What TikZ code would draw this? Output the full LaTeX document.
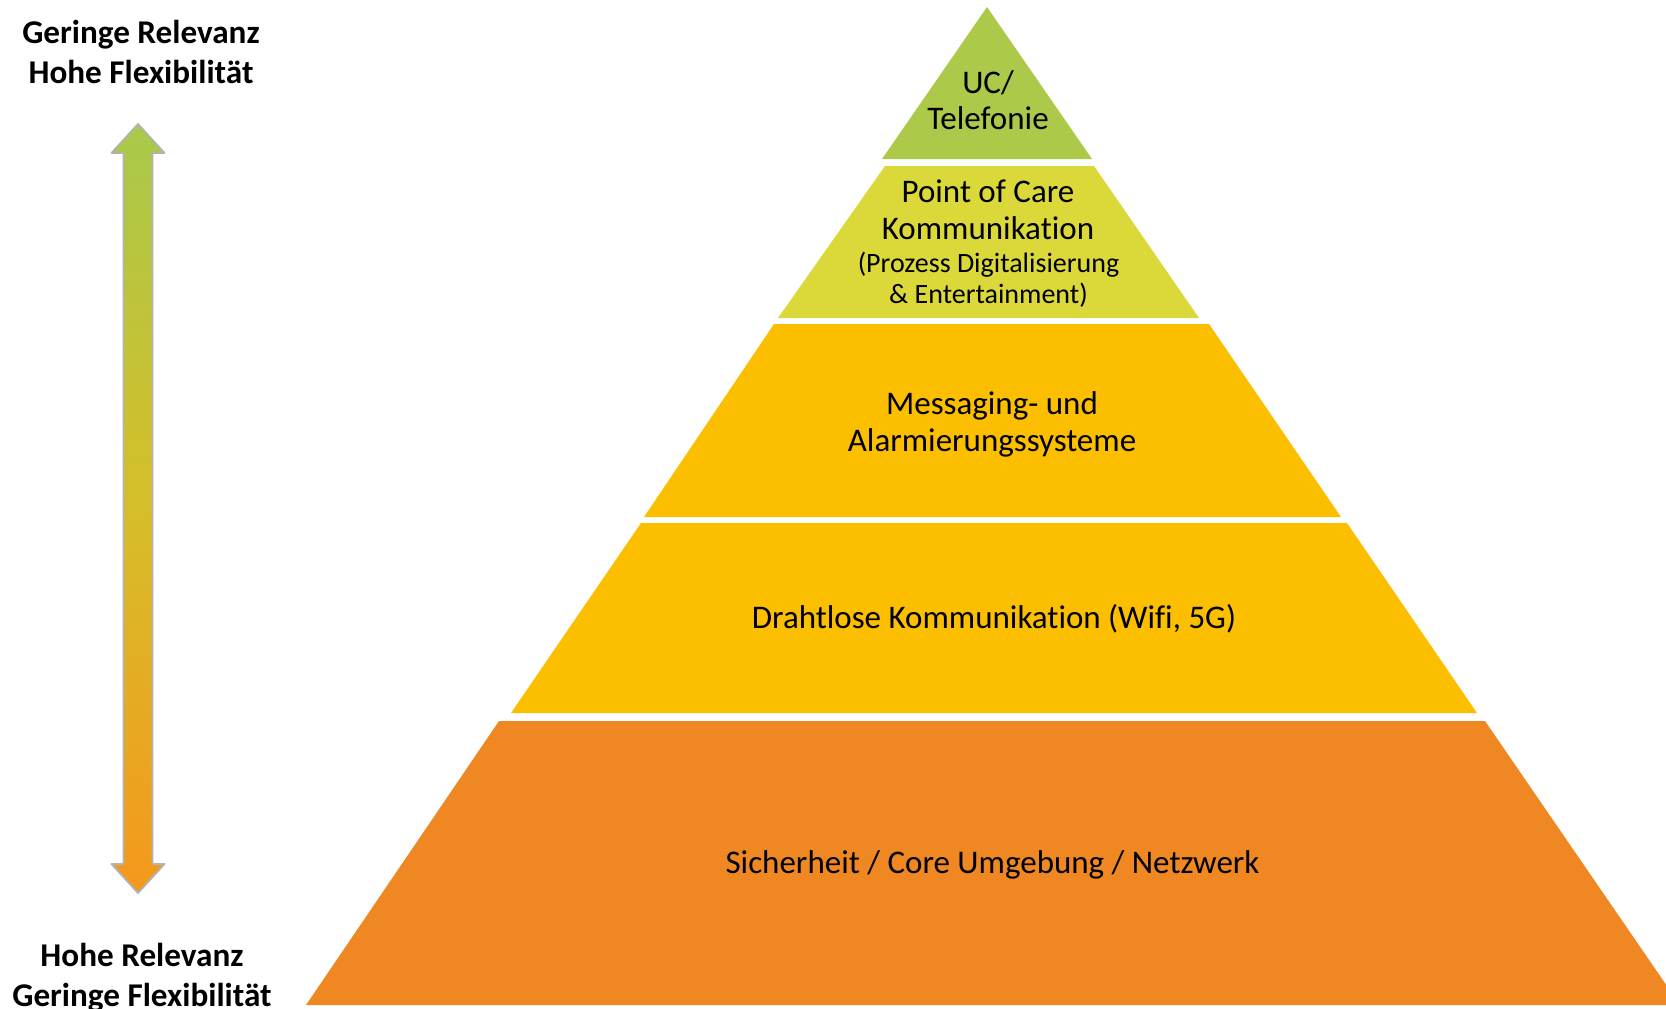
\documentclass[tikz,border=0pt]{standalone}
\usepackage{fontspec}
\setmainfont[Ligatures=NoCommon]{Carlito}
\definecolor{ucgreen}{RGB}{173,201,74}
\definecolor{pocyellow}{RGB}{219,217,58}
\definecolor{msggold}{RGB}{251,191,0}
\definecolor{coreorange}{RGB}{239,136,34}
\definecolor{arrowtop}{RGB}{169,201,75}
\definecolor{arrowmid}{RGB}{214,190,40}
\definecolor{arrowbot}{RGB}{244,152,28}
\tikzset{
  layertext/.style={anchor=base,font=\fontsize{33}{36}\selectfont},
  subtext/.style={anchor=base,font=\fontsize{28}{31}\selectfont},
  sidelabel/.style={anchor=base,font=\fontsize{33.2}{40}\selectfont\bfseries}
}

\begin{document}
\begin{tikzpicture}[line cap=round,line join=round,x=1pt,y=-1pt]
		\useasboundingbox (0,0) rectangle (1666,1009);
		\clip (0,0) rectangle (1666,1009);
		% pyramid
		\fill [color=ucgreen] (987,7)-- (1092,159)-- (882,159)-- cycle;
		\fill [color=pocyellow] (885,166)-- (1094,166)-- (1199,318)-- (778,318)-- cycle;
		\fill [color=msggold] (774,324)-- (1209,324)-- (1341,517)-- (644,517)-- cycle;
		\fill [color=msggold] (641,523)-- (1347,523)-- (1477,713)-- (511,713)-- cycle;
		\fill [color=coreorange] (499,721)-- (1485,721)-- (1680,1005)-- (306,1005)-- cycle;
		% double arrow
		\shade [top color=arrowtop,bottom color=arrowbot,middle color=arrowmid,draw=black!30,line width=1.8pt]
			(138,124)-- (164.5,153)-- (152.5,153)-- (152.5,864)-- (164.5,864)-- (138,893)
			-- (111.5,864)-- (123.5,864)-- (123.5,153)-- (111.5,153)-- cycle;
		% texts
		\node[layertext] (uc1) at (988,93) {UC/};
		\node[layertext] (uc2) at (988,129) {Telefonie};
		\node[layertext] (poc1) at (988,202) {Point of Care};
		\node[layertext] (poc2) at (988,239) {Kommunikation};
		\node[subtext] (poc3) at (988.5,272) {(Prozess Digitalisierung};
		\node[subtext] (poc4) at (988.5,303) {\& Entertainment)};
		\node[layertext] (msg1) at (992,414) {Messaging- und};
		\node[layertext] (msg2) at (992,451) {Alarmierungssysteme};
		\node[layertext] (wlan) at (994,628) {Drahtlose Kommunikation (Wifi, 5G)};
		\node[layertext] (core) at (992.5,873) {Sicherheit / Core Umgebung / Netzwerk};
		\node[sidelabel] (top1) at (141,43) {Geringe Relevanz};
		\node[sidelabel] (top2) at (141,83) {Hohe Flexibilität};
		\node[sidelabel] (bot1) at (142,966) {Hohe Relevanz};
		\node[sidelabel] (bot2) at (142,1006) {Geringe Flexibilität};
	\end{tikzpicture}
\end{document}
